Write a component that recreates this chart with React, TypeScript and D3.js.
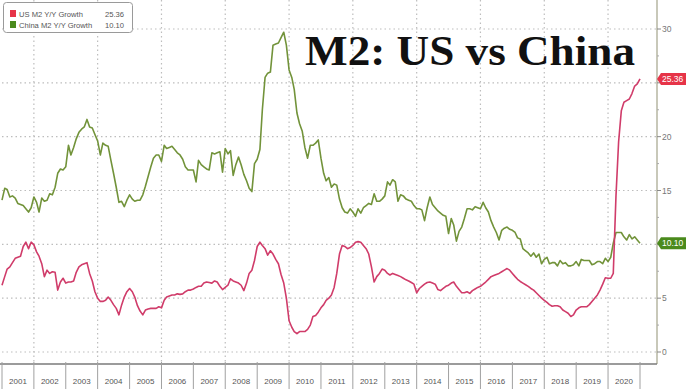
import React from 'react';
import * as d3 from 'd3';

const title = 'M2: US vs China';
const seriesNames = ['US M2 Y/Y Growth', 'China M2 Y/Y Growth'];
const lastValues = ['25.36', '10.10'];
const yearLabels = d3.range(2001, 2021);
const yTicks = [0, 5, 10, 15, 20, 25, 30];
const gridYears = [2002, 2004, 2006, 2008, 2010, 2012, 2014, 2016, 2018, 2020];

// Monthly Y/Y growth, Jan 2001 .. Jan 2021
const usM2 = [
  6.2, 7.0, 7.7, 7.9, 8.3, 8.7, 8.8, 8.9, 9.8, 10.2, 9.6, 10.2,
  9.95, 9.3, 8.9, 8.2, 7.0, 7.6, 7.3, 7.45, 7.4, 5.75, 6.5, 6.85,
  6.4, 6.5, 6.5, 6.6, 7.4, 7.9, 8.1, 8.2, 8.3, 7.3, 6.6, 5.6,
  5.0, 4.7, 4.7, 4.8, 5.1, 4.8, 4.4, 4.05, 3.45, 4.35, 5.1, 5.6,
  5.9, 5.6, 5.1, 4.3, 3.8, 3.45, 3.9, 4.0, 4.05, 4.05, 4.05, 4.2,
  4.1, 4.8, 5.1, 5.2, 5.3, 5.3, 5.4, 5.35, 5.4, 5.6, 5.75, 5.75,
  5.85, 6.0, 6.1, 6.1, 6.4, 6.5, 6.45, 6.4, 6.6, 6.5, 6.1, 5.8,
  6.0, 6.2, 6.8, 6.6, 6.5, 6.4, 6.2, 5.7, 6.4, 7.3, 7.6, 8.5,
  9.8, 10.2, 9.9, 9.6, 9.0, 9.4, 9.1, 8.6, 8.2, 7.2, 6.4, 5.0,
  2.9, 2.3, 1.9, 1.7, 1.9, 1.9, 1.9, 2.1, 2.5, 3.3, 3.4, 3.7,
  4.1, 4.4, 4.8, 5.0, 5.3, 6.0, 7.3, 9.1, 9.9, 9.8, 9.6, 9.7,
  9.9, 10.2, 10.25, 10.2, 9.9, 9.6, 9.1, 7.9, 6.5, 7.0, 7.3, 7.7,
  7.6, 7.3, 7.15, 7.3, 7.2, 7.1, 7.0, 6.85, 6.7, 6.6, 6.45, 6.3,
  5.5, 5.9, 6.1, 6.3, 6.45, 6.5, 6.4, 6.3, 5.8, 5.7, 5.9, 6.1,
  6.2, 6.4, 6.5, 6.1, 5.8, 5.5, 5.5, 5.6, 5.45, 5.7, 5.85, 6.0,
  6.1, 6.3, 6.5, 6.75, 7.0, 7.1, 7.2, 7.3, 7.45, 7.6, 7.75, 7.6,
  7.3, 7.0, 6.75, 6.55, 6.4, 6.25, 6.1, 5.9, 5.75, 5.5, 5.25, 5.0,
  4.8, 4.6, 4.4, 4.25, 4.3, 4.3, 4.2, 3.9, 3.75, 3.6, 3.3, 3.45,
  3.9, 4.1, 4.2, 4.2, 4.2, 4.4, 4.7, 5.0, 5.3, 5.75, 6.3, 6.9,
  6.85, 6.85, 7.3, 14.5, 19.5, 22.4, 23.2, 23.35, 23.5, 24.0, 24.7, 24.9,
  25.36,
];

const chinaM2 = [
  14.1, 15.2, 15.1, 14.4, 14.5, 14.3, 13.8, 13.7, 13.6, 13.3, 13.0, 13.4,
  14.4, 13.9, 13.0, 14.3, 14.0, 14.1, 14.7, 14.6, 15.3, 16.6, 17.0, 16.9,
  17.2, 19.2, 18.3, 19.0, 19.8, 20.4, 20.7, 20.9, 21.6, 20.9, 20.8, 20.2,
  19.6, 18.3, 19.4, 19.2, 19.1, 17.8, 16.6, 15.3, 13.9, 14.0, 13.5, 14.1,
  14.6, 14.2, 14.0, 14.1, 14.1, 14.6, 15.4, 16.3, 17.2, 18.0, 18.3, 18.3,
  17.7, 19.2, 18.9, 19.0, 19.1, 18.8, 18.5, 18.3, 17.9, 17.2, 16.9, 16.9,
  16.9, 15.8, 17.8, 17.4, 17.2, 17.0, 16.9, 18.5, 18.4, 18.5, 18.6, 16.7,
  18.9, 18.4, 18.7, 16.4, 17.4, 18.1, 17.4, 16.5, 15.9, 15.2, 14.9, 17.5,
  17.9, 18.8, 22.5, 25.5, 25.9, 26.0, 28.5, 28.6, 28.7, 29.2, 29.7, 28.5,
  26.2, 25.5, 24.4, 22.2, 21.2, 20.5, 19.0, 18.0, 19.2, 19.2, 19.4, 19.7,
  18.0, 16.6, 15.9, 16.2, 15.3, 15.6, 15.5, 14.2, 13.4, 13.0, 12.9, 13.3,
  13.0, 12.6, 13.3, 12.9, 13.4, 13.6, 13.8, 13.7, 14.7, 14.0, 14.0, 14.2,
  14.5, 15.8, 15.5, 16.0, 15.8, 14.0, 14.6, 14.5, 14.2, 14.1, 14.0, 13.6,
  13.3, 13.3, 13.2, 12.2, 13.4, 14.4, 13.7, 13.4, 13.1, 12.9, 12.7, 12.6,
  11.0, 12.4, 11.8, 10.3, 11.2, 11.6, 12.4, 13.3, 13.3, 13.2, 13.5, 13.4,
  13.3, 13.9, 13.4, 13.0, 12.2, 11.6, 11.1, 10.4, 11.3, 11.5, 11.6, 11.4,
  11.3, 11.1, 10.6, 10.5, 9.6, 9.4, 9.2, 8.9, 9.2, 8.8, 9.1, 8.2,
  8.6, 8.8, 8.2, 8.3, 8.3, 8.0, 8.5, 8.2, 8.3, 8.0, 8.0, 8.1,
  8.4, 8.0, 8.6, 8.5, 8.5, 8.5, 8.1, 8.2, 8.4, 8.4, 8.2, 8.7,
  8.4, 8.8, 10.1, 11.1, 11.1, 11.1, 10.7, 10.4, 10.9, 10.5, 10.7, 10.4,
  10.1,
];

const US_COLOR = '#d03c6a';
const CN_COLOR = '#72933a';
const US_TAG = '#e63448';
const CN_TAG = '#4a8a1c';
const FONT = '"Liberation Sans", Arial, sans-serif';

export default function App() {
  const W = 686;
  const H = 389;
  const axisX = 657;
  const axisY = 364;
  const x = d3.scaleTime().domain([new Date(2001, 0, 1), new Date(2021, 0, 1)]).range([2, 640]);
  const y = d3.scaleLinear().domain([0, 30]).range([352, 29]);
  const dates = usM2.map((_, i) => new Date(2001, i, 1));
  const line = d3
    .line<number>()
    .x((_, i) => x(dates[i]))
    .y((d) => y(d));

  const minorTicks = d3.range(0, 30.01, 2.5).filter((v) => v % 5 !== 0);
  const tags = [
    { v: usM2[usM2.length - 1], label: lastValues[0], color: US_TAG },
    { v: chinaM2[chinaM2.length - 1], label: lastValues[1], color: CN_TAG },
  ];
  // tick labels hidden beneath the value tags
  const visibleTickLabels = yTicks.filter((t) => tags.every((tg) => Math.abs(y(t) - y(tg.v)) > 9));

  return (
    <div style={{ position: 'absolute', left: 0, top: 0 }}>
      <svg width={W} height={H} style={{ display: 'block', background: '#fff' }}>
        <rect x={0} y={0} width={W} height={H} fill="#fff" />
        {/* horizontal grid */}
        {yTicks.map((t) => (
          <line key={'h' + t} x1={2} x2={axisX} y1={y(t)} y2={y(t)} stroke="#bdbdbd" strokeWidth={1.2} strokeDasharray="1.5 3" />
        ))}
        {/* vertical grid */}
        {gridYears.map((yr) => (
          <line key={'v' + yr} x1={x(new Date(yr, 0, 1))} x2={x(new Date(yr, 0, 1))} y1={0} y2={axisY} stroke="#bdbdbd" strokeWidth={1.2} strokeDasharray="1.5 3" />
        ))}
        {/* lines */}
        <path d={line(chinaM2) || ''} fill="none" stroke={CN_COLOR} strokeWidth={1.6} strokeLinejoin="round" />
        <path d={line(usM2) || ''} fill="none" stroke={US_COLOR} strokeWidth={1.6} strokeLinejoin="round" />
        {/* title */}
        <text x={305} y={65} fontFamily='"Liberation Serif", "Times New Roman", serif' fontWeight="bold" fontSize={42} textLength={330} lengthAdjust="spacingAndGlyphs" fill="#111">
          {title}
        </text>
        {/* axes frame */}
        <line x1={axisX} x2={axisX} y1={0} y2={axisY} stroke="#a3a38a" strokeWidth={1.2} />
        <line x1={0} x2={axisX} y1={axisY} y2={axisY} stroke="#7a7a7a" strokeWidth={1.5} />
        {/* right axis ticks */}
        {yTicks.map((t) => (
          <line key={'t' + t} x1={axisX} x2={axisX + 4} y1={y(t)} y2={y(t)} stroke="#888" strokeWidth={1} />
        ))}
        {visibleTickLabels.map((t) => (
          <text key={'l' + t} x={axisX + 5} y={y(t) + 3} fontFamily={FONT} fontSize={8.5} fill="#777">
            {t}
          </text>
        ))}
        {minorTicks.map((t) => (
          <line key={'m' + t} x1={axisX} x2={axisX + 2} y1={y(t)} y2={y(t)} stroke="#aaa" strokeWidth={1} />
        ))}
        {/* value tags */}
        {tags.map((tg) => {
          const ty = y(tg.v);
          return (
            <g key={tg.label}>
              <path d={`M${axisX},${ty} L${axisX + 4},${ty - 6} L${W},${ty - 6} L${W},${ty + 6} L${axisX + 4},${ty + 6} Z`} fill={tg.color} />
              <text x={axisX + 5} y={ty + 3} fontFamily={FONT} fontSize={8.5} fill="#fff">
                {tg.label}
              </text>
            </g>
          );
        })}
        {/* bottom year separators and labels */}
        {d3.range(2001, 2022).map((yr) => (
          <line key={'s' + yr} x1={x(new Date(yr, 0, 1))} x2={x(new Date(yr, 0, 1))} y1={axisY - 2} y2={H} stroke="#a0a0a0" strokeWidth={1} />
        ))}
        {yearLabels.map((yr) => {
          const cx = (x(new Date(yr, 0, 1)) + x(new Date(yr + 1, 0, 1))) / 2;
          return (
            <text key={'y' + yr} x={cx} y={384} textAnchor="middle" fontFamily={FONT} fontSize={8} fill="#555">
              {yr}
            </text>
          );
        })}
        {/* legend */}
        <rect x={3.5} y={2.5} width={129} height={30} rx={3} fill="#fff" stroke="#9a9a9a" strokeWidth={1} />
        <rect x={10} y={10} width={6} height={7} fill={US_TAG} />
        <rect x={10} y={21} width={6} height={7} fill={CN_TAG} />
        <text x={19} y={17} fontFamily={FONT} fontSize={7.6} fill="#555">{seriesNames[0]}</text>
        <text x={19} y={28} fontFamily={FONT} fontSize={7.6} fill="#555">{seriesNames[1]}</text>
        <text x={124} y={17} textAnchor="end" fontFamily={FONT} fontSize={7.6} fill="#555">{lastValues[0]}</text>
        <text x={124} y={28} textAnchor="end" fontFamily={FONT} fontSize={7.6} fill="#555">{lastValues[1]}</text>
      </svg>
    </div>
  );
}
